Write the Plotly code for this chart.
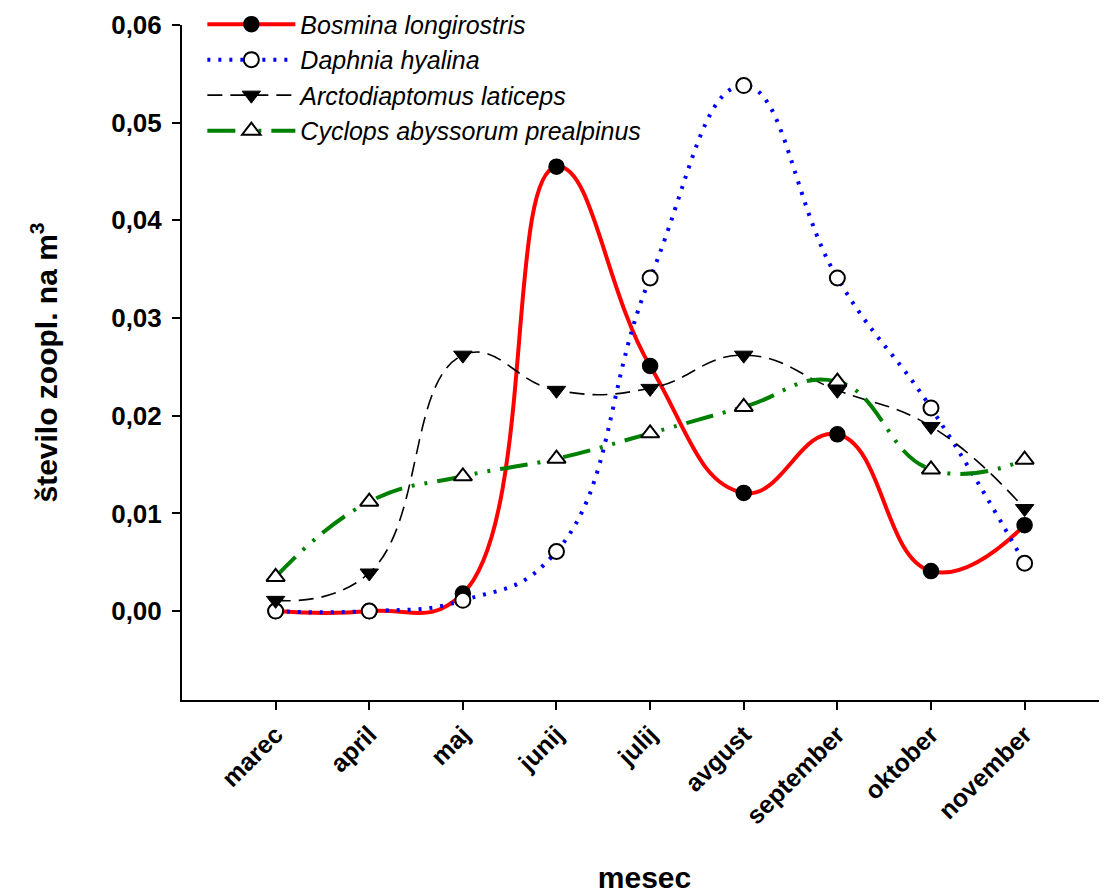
import plotly.graph_objects as go

months = ["marec", "april", "maj", "junij", "julij", "avgust", "september", "oktober", "november"]
bosmina = [0.0, 0.0, 0.0018, 0.0455, 0.0251, 0.0121, 0.0181, 0.0041, 0.0088]
daphnia = [0.0, 0.0, 0.0011, 0.0061, 0.0341, 0.0538, 0.0341, 0.0208, 0.0049]
arcto = [0.0011, 0.0039, 0.0262, 0.0226, 0.0228, 0.0262, 0.0226, 0.0189, 0.0105]
cyclops = [0.0035, 0.0112, 0.0138, 0.0156, 0.0182, 0.0209, 0.0235, 0.0145, 0.0155]
y_ticks = [0.0, 0.01, 0.02, 0.03, 0.04, 0.05, 0.06]

FONT = "Arial, Liberation Sans, sans-serif"

fig = go.Figure()

fig.add_trace(go.Scatter(
    x=months, y=bosmina, name="<i>Bosmina longirostris</i>", mode="lines+markers",
    line=dict(color="#FF0000", width=4, shape="spline", smoothing=1.3),
    marker=dict(symbol="circle", size=15, color="black", line=dict(color="black", width=1.5)),
))
fig.add_trace(go.Scatter(
    x=months, y=daphnia, name="<i>Daphnia hyalina</i>", mode="lines+markers",
    line=dict(color="#0000FF", width=4, dash="3px,8px", shape="spline", smoothing=1.3),
    marker=dict(symbol="circle", size=15, color="white", line=dict(color="black", width=2)),
))
fig.add_trace(go.Scatter(
    x=months, y=arcto, name="<i>Arctodiaptomus laticeps</i>", mode="lines+markers",
    line=dict(color="black", width=1.6, dash="15px,8px", shape="spline", smoothing=1.3),
    marker=dict(symbol="triangle-down", size=16, color="black", line=dict(color="black", width=1)),
))
fig.add_trace(go.Scatter(
    x=months, y=cyclops, name="<i>Cyclops abyssorum prealpinus</i>", mode="lines+markers",
    line=dict(color="#008000", width=4, dash="28px,10px,3px,10px,3px,10px", shape="spline", smoothing=1.3),
    marker=dict(symbol="triangle-up", size=16, color="white", line=dict(color="black", width=2)),
))

# the page body adds an 8px offset, so the figure is 8px smaller than the window
fig.update_layout(
    width=1099, height=886,
    margin=dict(l=174, r=0, t=17, b=194, autoexpand=False),
    paper_bgcolor="white", plot_bgcolor="white",
    separators=", ",
    font=dict(family=FONT, color="black"),
    showlegend=True,
    legend=dict(
        x=0.022, y=1.035, xanchor="left", yanchor="top",
        font=dict(family=FONT, size=25, color="black"),
        bgcolor="rgba(0,0,0,0)", itemwidth=88,
        tracegroupgap=0,
    ),
)

fig.update_xaxes(
    type="category", categoryorder="array", categoryarray=months,
    range=[-1, 8.88], automargin=False,
    showline=True, linecolor="black", linewidth=2,
    showgrid=False, zeroline=False,
    ticks="outside", ticklen=8, tickwidth=2, tickcolor="black",
    tickangle=-45,
    tickfont=dict(family=FONT, size=25, color="black", weight="bold"),
    title=dict(text="mesec", font=dict(family=FONT, size=30, color="black", weight="bold"), standoff=47),
)
fig.update_yaxes(
    range=[-0.0091, 0.06], automargin=False,
    tickvals=y_ticks, tickformat=".2f",
    showline=True, linecolor="black", linewidth=2,
    showgrid=False, zeroline=False,
    ticks="outside", ticklen=8, tickwidth=2, tickcolor="black",
    ticklabelstandoff=5,
    tickfont=dict(family=FONT, size=26, color="black", weight="bold"),
    title=dict(text="število zoopl. na m<sup>3</sup>", font=dict(family=FONT, size=30, color="black", weight="bold"), standoff=45),
)

fig.write_html("out.html")
